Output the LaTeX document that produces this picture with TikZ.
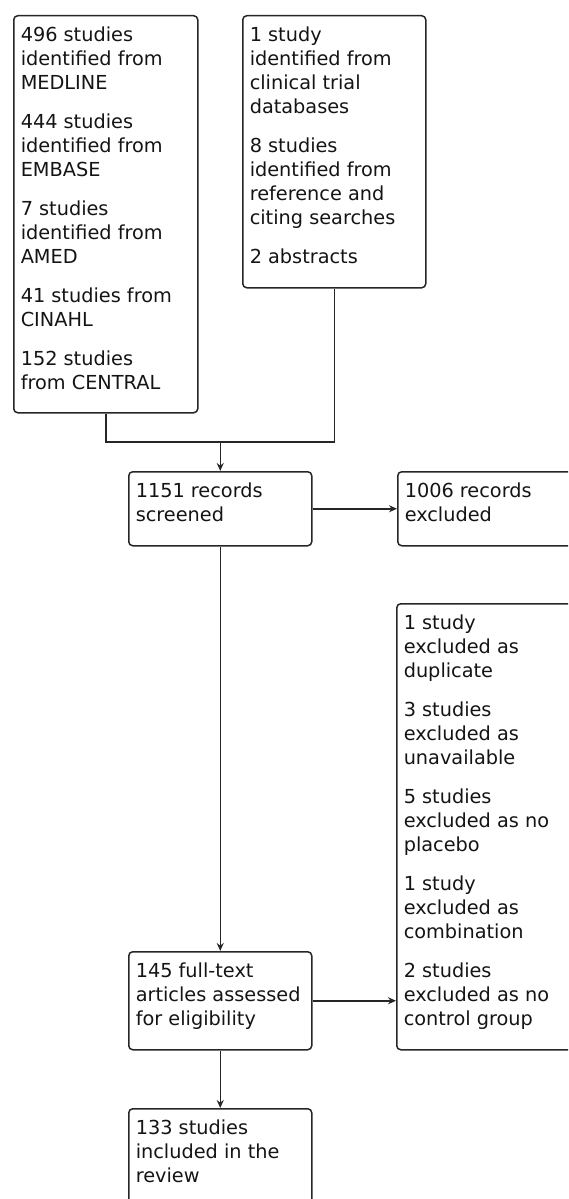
\documentclass[tikz,border=0pt]{standalone}
\usepackage{fontspec}
\setmainfont{DejaVu Sans}
\usetikzlibrary{arrows.meta}
\definecolor{boxgray}{rgb}{0.15,0.15,0.15}
\definecolor{txt}{rgb}{0.08,0.08,0.08}
\newcommand{\bxt}[3]{\parbox[c][#1][t]{#2}{\raggedright\rule{0pt}{26pt}#3}}
\begin{document}
\begin{tikzpicture}[x=1pt,y=-1pt,
  box/.style={draw=boxgray, line width=1.5pt, rounded corners=4pt, inner xsep=7pt, inner ysep=0pt,
    anchor=north west, text=txt, font=\fontsize{19.3}{24}\selectfont},
  arr/.style={draw=boxgray, line width=1.5pt, -{Stealth[length=8pt,width=7pt]}},
  ln/.style={draw=boxgray, line width=1.5pt}]
\useasboundingbox (0,0) rectangle (568,1199);
\clip (0,0) rectangle (568,1199);

\node[box] (A) at (13,15) {\bxt{397pt}{170pt}{496 studies\\identified from\\MEDLINE\\[15pt]444 studies\\identified from\\EMBASE\\[15pt]7 studies\\identified from\\AMED\\[15pt]41 studies from\\CINAHL\\[15pt]152 studies\\from CENTRAL}};

\node[box] (B) at (242,15) {\bxt{272pt}{169pt}{1 study\\identified from\\clinical trial\\databases\\[15pt]8 studies\\identified from\\reference and\\citing searches\\[15pt]2 abstracts}};

\node[box] (M) at (128,471) {\bxt{74pt}{169pt}{1151 records\\screened}};
\node[box] (R1) at (397,471) {\bxt{74pt}{169pt}{1006 records\\excluded}};

\node[box] (R2) at (396,603) {\bxt{446pt}{170pt}{1 study\\excluded as\\duplicate\\[15pt]3 studies\\excluded as\\unavailable\\[15pt]5 studies\\excluded as no\\placebo\\[15pt]1 study\\excluded as\\combination\\[15pt]2 studies\\excluded as no\\control group}};

\node[box] (F) at (128,951) {\bxt{98pt}{169pt}{145 full-text\\articles assessed\\for eligibility}};
\node[box] (I) at (128,1108) {\bxt{98pt}{169pt}{133 studies\\included in the\\review}};

\coordinate (J) at (M.north |- 0,442);
\draw[ln] (A.south) |- (J);
\draw[ln] (B.south) |- (J);
\draw[arr] (J) -- (M.north);
\draw[arr] (M.east) -- (R1.west |- M.east);
\draw[arr] (M.south) -- (F.north);
\draw[arr] (F.east) -- (R2.west |- F.east);
\draw[arr] (F.south) -- (I.north);
\end{tikzpicture}
\end{document}
